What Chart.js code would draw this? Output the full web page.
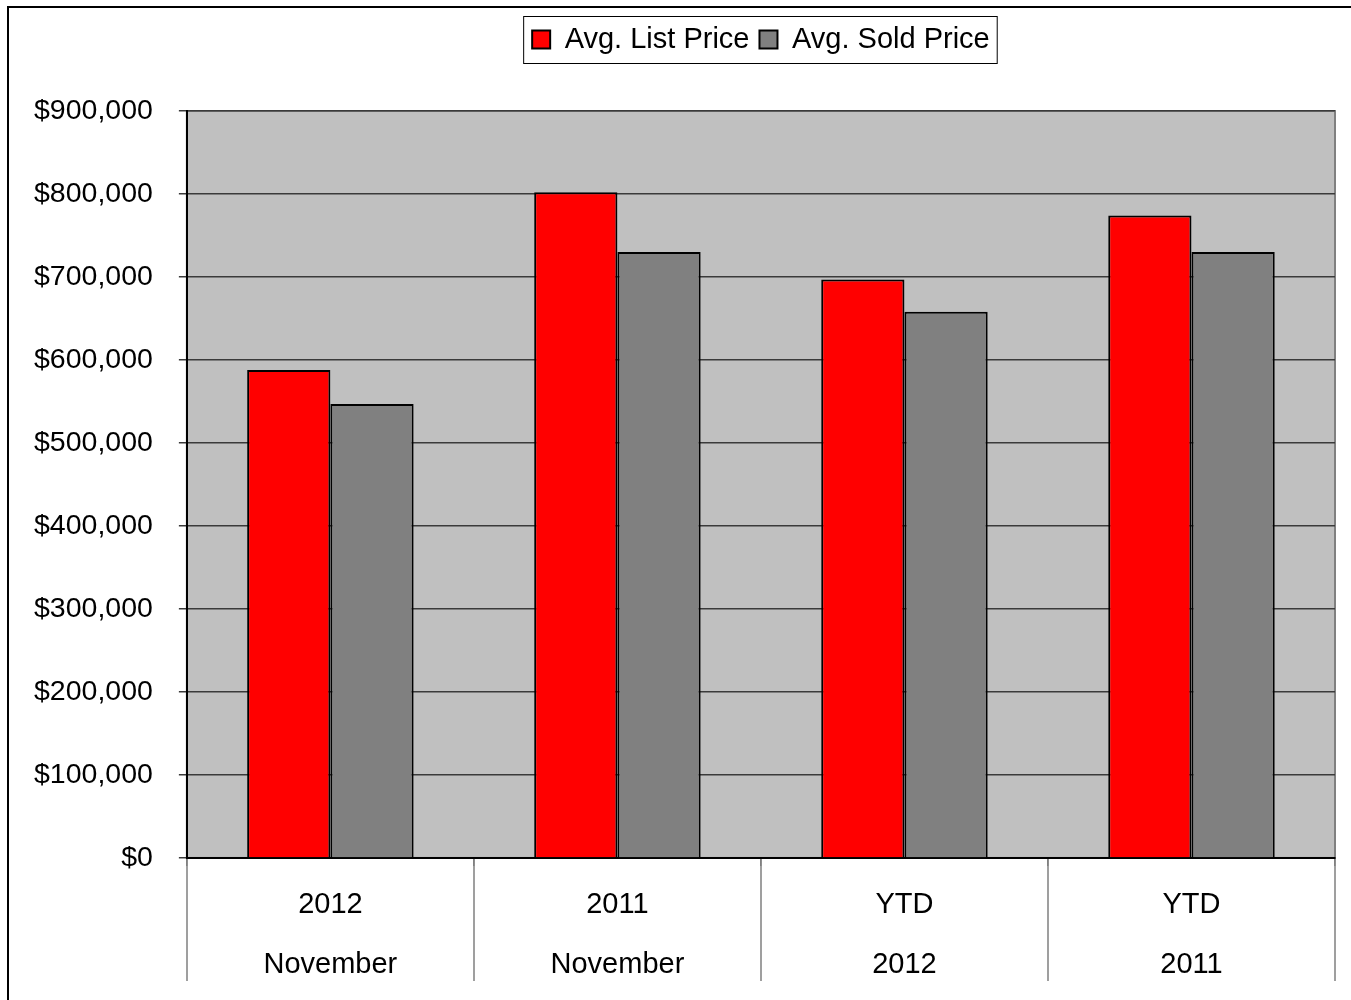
<!DOCTYPE html>
<html>
<head>
<meta charset="utf-8">
<script src="https://cdn.jsdelivr.net/npm/chart.js@4/dist/chart.umd.min.js"></script>
<style>
  html, body { margin: 0; padding: 0; background: #fff; }
  #wrap { width: 1351px; height: 1000px; position: relative; }
</style>
</head>
<body>
<div id="wrap"><canvas id="chart" width="1351" height="1000"></canvas></div>
<script>
// Chart data
const categories = [['2012', 'November'], ['2011', 'November'], ['YTD', '2012'], ['YTD', '2011']];
const listPrice = [588000, 802000, 697000, 774000];
const soldPrice = [547000, 730000, 658000, 730000];
const seriesNames = ['Avg. List Price', 'Avg. Sold Price'];
const yMin = 0;
const yMax = 900000;
const yStep = 100000;

const FONT = "'Liberation Sans', Arial, sans-serif";

// Grey plot background, plot frame, outer border, category separators and legend box
const framePlugin = {
  id: 'frame',
  beforeDraw(chart) {
    const { ctx, chartArea: a } = chart;
    ctx.save();
    ctx.fillStyle = '#C0C0C0';
    ctx.fillRect(a.left, a.top, a.right - a.left, a.bottom - a.top);
    ctx.strokeStyle = '#808080';
    ctx.lineWidth = 2;
    ctx.strokeRect(a.left, a.top, a.right - a.left, a.bottom - a.top);
    // outer border (only left and top are visible in the picture)
    ctx.strokeStyle = '#000';
    ctx.lineWidth = 2;
    ctx.beginPath();
    ctx.moveTo(8, chart.height);
    ctx.lineTo(8, 7);
    ctx.lineTo(chart.width, 7);
    ctx.stroke();
    // separators between the category labels under the axis
    const xs = chart.scales.x;
    const step = xs.getPixelForValue(1) - xs.getPixelForValue(0);
    ctx.strokeStyle = '#808080';
    ctx.lineWidth = 1.5;
    ctx.beginPath();
    for (let i = 0; i <= categories.length; i++) {
      const x = Math.round(xs.getPixelForValue(i) - step / 2);
      ctx.moveTo(x, a.bottom);
      ctx.lineTo(x, a.bottom + 123);
    }
    ctx.stroke();
    ctx.restore();
  },
  afterDraw(chart) {
    const boxes = chart.legend.legendHitBoxes;
    if (!boxes || !boxes.length) return;
    const left = Math.min(...boxes.map(b => b.left)) - 9;
    const right = Math.max(...boxes.map(b => b.left + b.width)) + 7;
    const top = Math.min(...boxes.map(b => b.top)) - 9;
    const bottom = Math.max(...boxes.map(b => b.top + b.height)) + 9;
    const ctx = chart.ctx;
    ctx.save();
    ctx.strokeStyle = '#000';
    ctx.lineWidth = 1;
    ctx.strokeRect(left + 0.5, top + 0.5, right - left, bottom - top);
    ctx.restore();
  }
};

// Extra room under the legend before the plot starts
const legendSpace = {
  id: 'legendSpace',
  beforeInit(chart) {
    const origFit = chart.legend.fit;
    chart.legend.fit = function () {
      origFit.bind(chart.legend)();
      this.height += 47;
    };
  }
};

new Chart(document.getElementById('chart'), {
  type: 'bar',
  data: {
    labels: categories,
    datasets: [
      {
        label: seriesNames[0],
        data: listPrice,
        backgroundColor: '#FF0000',
        borderColor: '#000',
        borderWidth: 2
      },
      {
        label: seriesNames[1],
        data: soldPrice,
        backgroundColor: '#808080',
        borderColor: '#000',
        borderWidth: 2
      }
    ]
  },
  options: {
    responsive: false,
    animation: false,
    devicePixelRatio: 1,
    categoryPercentage: 0.58,
    barPercentage: 1.0,
    layout: { padding: { left: 8, right: 16, top: 15, bottom: -4 } },
    plugins: {
      legend: {
        display: true,
        position: 'top',
        fullSize: false,
        labels: {
          color: '#000',
          font: { family: FONT, size: 29 },
          boxWidth: 18,
          boxHeight: 18,
          padding: 10
        }
      },
      tooltip: { enabled: false }
    },
    scales: {
      x: {
        offset: true,
        grid: {
          display: true,
          offset: true,
          drawOnChartArea: false,
          color: '#808080',
          lineWidth: 1.5,
          tickLength: 8
        },
        border: { display: true, color: '#000', width: 2 },
        ticks: {
          color: '#000',
          font: { family: FONT, size: 29, lineHeight: 2.07 },
          padding: 9,
          maxRotation: 0,
          autoSkip: false
        }
      },
      y: {
        min: yMin,
        max: yMax,
        grid: {
          color: '#3a3a3a',
          lineWidth: 1.5,
          tickLength: 8
        },
        border: { display: true, color: '#000', width: 2 },
        ticks: {
          stepSize: yStep,
          color: '#000',
          font: { family: FONT, size: 28.5 },
          padding: 26,
          callback: v => '$' + v.toLocaleString('en-US')
        }
      }
    }
  },
  plugins: [framePlugin, legendSpace]
});
</script>
</body>
</html>
